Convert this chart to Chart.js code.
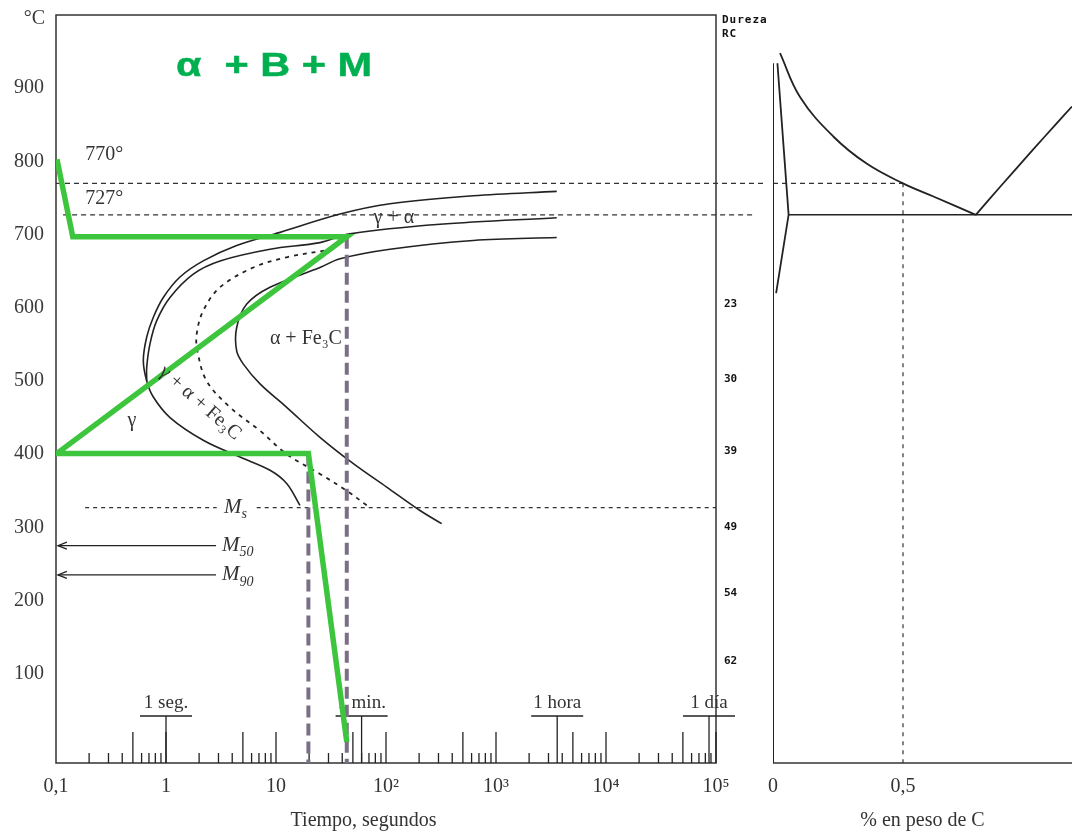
<!DOCTYPE html>
<html>
<head>
<meta charset="utf-8">
<script src="https://cdn.jsdelivr.net/npm/chart.js@4.4.1/dist/chart.umd.min.js"></script>
<style>
  body { margin: 0; background: #fff; }
  #feC { position: absolute; left: 760px; top: 0; }
  #ttt { position: absolute; left: 0; top: 0; }
</style>
</head>
<body>
<canvas id="feC" width="312" height="833"></canvas>
<canvas id="ttt" width="790" height="833"></canvas>
<script>
const SERIF = "'Liberation Serif', 'Times New Roman', serif";
const INK = "#222";

// temperature range shared by both panels (°C)
const tMin = -22;
const tMax = 1000;
const tempTicks = [100, 200, 300, 400, 500, 600, 700, 800, 900];

// time axis (s, log)
const timeTicks = [0.1, 1, 10, 100, 1000, 10000, 100000];
const timeLabels = ["0,1", "1", "10", "10²", "10³", "10⁴", "10⁵"];

// Rockwell C hardness read against temperature
const rcTemps = [605, 502, 404, 300, 210, 117];
const rcValues = ["23", "30", "39", "49", "54", "62"];

const a1Temp = 770;
const eutectoidTemp = 727;
const msTemp = 327;
const m50Temp = 275;
const m90Temp = 235;

// proeutectoid ferrite start, continuing down to Ms
const ferriteTimes = [3565, 622, 108.7, 38.2, 10.9, 4.39, 2.18, 1.34, 0.945, 0.767, 0.668, 0.622, 0.668, 0.767, 1.087, 2.18, 4.71, 8.82, 12.5, 16.5];
const ferriteTemps = [759, 753, 742, 728, 703, 685, 664, 642, 614, 587, 560, 528, 500, 478, 450, 419, 396, 378, 360, 330];

// pearlite start
const pearliteTimes = [3565, 309.7, 47.1, 25.1, 8.82, 3.1, 1.77, 1.087, 0.822, 0.716, 0.668, 0.668];
const pearliteTemps = [723, 714, 701, 689, 680, 664, 646, 614, 582, 551, 519, 500];

// 50 % transformed
const halfTimes = [33.2, 12.5, 6.22, 3.1, 2.18, 1.9, 1.93, 2.34, 3.82, 7.16, 12.5, 25.1, 44, 66.8];
const halfTemps = [680, 669, 655, 628, 596, 564, 541, 500, 464, 432, 400, 373, 350, 330];

// transformation finish
const finishTimes = [3565, 622, 108.7, 38.2, 25.1, 8.82, 5.42, 4.39, 4.39, 5.05, 7.16, 12.5, 25.1, 50.5, 101.4, 203.7, 320.6];
const finishTemps = [696, 692, 680, 667, 655, 628, 605, 573, 541, 523, 496, 464, 423, 387, 355, 323, 305];

// cooling path drawn over the diagram
const pathTimes = [0.102, 0.142, 44, 0.102, 19.7, 44];
const pathTemps = [803, 697, 697, 401, 401, 7];
const holdTimes = [19.7, 44];
const holdTemps = [401, 697];

// ruler along the time axis
const rulerMinor = [2, 3, 4, 6, 7, 8, 9];
const rulerMajor = [5, 10];
const unitTimes = [1, 60, 3600, 86400];
const unitNames = ["1 seg.", "1 min.", "1 hora", "1 día"];

// Fe–C side (wt % C, °C)
const ironC = [0, 0];
const ironT = [tMin, 934];
const ferriteFieldC = [0.017, 0.06, 0.012];
const ferriteFieldT = [934, eutectoidTemp, 620];
const a3C = [0.027, 0.104, 0.232, 0.36, 0.5, 0.617, 0.78];
const a3T = [948, 888, 834, 797, 770, 752, eutectoidTemp];
const acmC = [0.78, 0.873, 1.0, 1.091, 1.15];
const acmT = [eutectoidTemp, 765, 816, 852, 875];
const eutectoidC = [0.06, 1.15];
const steelCarbon = 0.5;
const carbonTicks = [0, 0.5];
const carbonLabels = ["0", "0,5"];

const pts = (xs, ys) => xs.map((x, i) => ({ x, y: ys[i] }));
const line = (data, extra) => Object.assign({
  data, borderColor: INK, borderWidth: 1.6, pointRadius: 0, tension: 0.35, fill: false
}, extra);
// keep the plot box where the axes are sized, no room for overhanging labels
const noOverhang = s => { s.paddingTop = 0; s.paddingBottom = 0; s.paddingLeft = 0; s.paddingRight = 0; };

function dashed(ctx, x0, y, x1, dash) {
  ctx.save();
  ctx.strokeStyle = "#333";
  ctx.lineWidth = 1.2;
  ctx.setLineDash(dash);
  ctx.beginPath();
  ctx.moveTo(x0, y);
  ctx.lineTo(x1, y);
  ctx.stroke();
  ctx.restore();
}

function subLabel(ctx, x, y, main, sub) {
  ctx.font = "italic 21px " + SERIF;
  ctx.textAlign = "left";
  ctx.textBaseline = "middle";
  ctx.fillText(main, x, y);
  const w = ctx.measureText(main).width;
  ctx.font = "italic 14px " + SERIF;
  ctx.fillText(sub, x + w, y + 7);
}

const tttDecor = {
  id: "tttDecor",
  beforeDatasetsDraw(chart) {
    const { ctx, chartArea: a, scales: { x, y } } = chart;
    ctx.save();
    // frame
    ctx.strokeStyle = "#333";
    ctx.lineWidth = 1.5;
    ctx.strokeRect(a.left, a.top, a.right - a.left, a.bottom - a.top);
    // critical temperatures, carried across to the Fe–C panel
    dashed(ctx, x.getPixelForValue(0.1), y.getPixelForValue(a1Temp), a.right + 50, [5, 4]);
    dashed(ctx, x.getPixelForValue(0.116), y.getPixelForValue(eutectoidTemp), a.right + 39, [5, 4]);
    // time ruler
    ctx.strokeStyle = INK;
    ctx.lineWidth = 1.3;
    const tick = (t, len) => {
      const px = x.getPixelForValue(t);
      ctx.beginPath();
      ctx.moveTo(px, a.bottom);
      ctx.lineTo(px, a.bottom - len);
      ctx.stroke();
    };
    for (let k = -1; k <= 4; k++) {
      const base = Math.pow(10, k);
      rulerMinor.forEach(m => tick(m * base, 10));
      rulerMajor.forEach(m => tick(m * base, 31));
    }
    ctx.fillStyle = "#333";
    ctx.font = "19px " + SERIF;
    ctx.textAlign = "center";
    ctx.textBaseline = "alphabetic";
    unitTimes.forEach((t, i) => {
      const px = x.getPixelForValue(t);
      const top = a.bottom - 47;
      tick(t, 47);
      ctx.beginPath();
      ctx.moveTo(px - 26, top);
      ctx.lineTo(px + 26, top);
      ctx.stroke();
      ctx.fillText(unitNames[i], px, top - 8);
    });
    ctx.restore();
  },
  afterDatasetsDraw(chart) {
    const { ctx, chartArea: a, scales: { x, y } } = chart;
    const at = (t, T) => [x.getPixelForValue(t), y.getPixelForValue(T)];
    ctx.save();
    // arrow heads on M50 / M90
    [m50Temp, m90Temp].forEach(T => {
      const [px, py] = at(0.104, T);
      ctx.strokeStyle = INK;
      ctx.lineWidth = 1.2;
      ctx.beginPath();
      ctx.moveTo(px + 9, py - 3.5);
      ctx.lineTo(px, py);
      ctx.lineTo(px + 9, py + 3.5);
      ctx.stroke();
    });

    // unit of the temperature axis
    ctx.fillStyle = "#3a3a3a";
    ctx.font = "20px " + SERIF;
    ctx.textAlign = "right";
    ctx.textBaseline = "middle";
    ctx.fillText("°C", a.left - 11, a.top + 4);

    ctx.fillStyle = "#333";
    ctx.textAlign = "left";
    ctx.fillText("770°", ...at(0.184, 809));
    ctx.fillText("727°", ...at(0.184, 749));
    ctx.fillText("α + Fe₃C", ...at(8.8, 558));
    ctx.textAlign = "center";
    ctx.fillText("γ + α", ...at(118, 723));
    ctx.fillText("γ", ...at(0.49, 446));
    const [rx, ry] = at(2.04, 470);
    ctx.save();
    ctx.translate(rx, ry);
    ctx.rotate(0.72);
    ctx.fillText("γ + α + Fe₃C", 0, 0);
    ctx.restore();

    subLabel(ctx, ...at(3.37, msTemp), "M", "s");
    subLabel(ctx, ...at(3.23, m50Temp), "M", "50");
    subLabel(ctx, ...at(3.23, m90Temp), "M", "90");

    // axis title
    ctx.font = "20px " + SERIF;
    ctx.textAlign = "center";
    ctx.fillText("Tiempo, segundos", a.left + 0.466 * (a.right - a.left), chart.height - 12);

    // hardness header
    ctx.fillStyle = "#111";
    ctx.font = "bold 11px 'DejaVu Sans Mono', monospace";
    ctx.letterSpacing = "1px";
    ctx.textAlign = "left";
    ctx.fillText("Dureza", a.right + 6, a.top + 5);
    ctx.fillText("RC", a.right + 6, a.top + 19);
    ctx.letterSpacing = "0px";

    // resulting microstructure
    const [gx, gy] = at(1.23, 917);
    ctx.save();
    ctx.translate(gx, gy);
    ctx.scale(1.22, 1);
    ctx.fillStyle = "#00b050";
    ctx.strokeStyle = "#00b050";
    ctx.lineWidth = 0.5;
    ctx.lineJoin = "round";
    ctx.font = "bold 34px 'Liberation Sans', Arial, sans-serif";
    ctx.textBaseline = "alphabetic";
    ctx.fillText("α  + B + M", 0, 0);
    ctx.strokeText("α  + B + M", 0, 0);
    ctx.restore();
    ctx.restore();
  }
};

new Chart(document.getElementById("ttt"), {
  type: "line",
  data: {
    datasets: [
      line(pts(pathTimes, pathTemps), { borderColor: "#3dc53d", borderWidth: 5.5, tension: 0, borderJoinStyle: "miter" }),
      line([{ x: holdTimes[0], y: holdTemps[0] }, { x: holdTimes[0], y: tMin }], { borderColor: "#7b6f85", borderWidth: 4, borderDash: [12, 6], tension: 0 }),
      line([{ x: holdTimes[1], y: holdTemps[1] }, { x: holdTimes[1], y: tMin }], { borderColor: "#7b6f85", borderWidth: 4, borderDash: [12, 6], tension: 0 }),
      line(pts(ferriteTimes, ferriteTemps)),
      line(pts(pearliteTimes, pearliteTemps)),
      line(pts(halfTimes, halfTemps), { borderDash: [4, 5], borderWidth: 1.8 }),
      line(pts(finishTimes, finishTemps)),
      line([{ x: 0.184, y: msTemp }, { x: 2.89, y: msTemp }, { x: 4.4, y: null }, { x: 6.68, y: msTemp }, { x: 100000, y: msTemp }],
        { borderWidth: 1.2, borderDash: [4, 4], tension: 0, borderColor: "#333" }),
      line([{ x: 2.85, y: m50Temp }, { x: 0.104, y: m50Temp }], { borderWidth: 1.2, tension: 0 }),
      line([{ x: 2.85, y: m90Temp }, { x: 0.104, y: m90Temp }], { borderWidth: 1.2, tension: 0 })
    ]
  },
  options: {
    responsive: false,
    animation: false,
    events: [],
    layout: { padding: { top: 15, left: 0, right: 0, bottom: 0 } },
    plugins: { legend: { display: false }, tooltip: { enabled: false } },
    scales: {
      x: {
        type: "logarithmic", min: 0.1, max: 100000,
        afterBuildTicks: s => { s.ticks = timeTicks.map(v => ({ value: v })); },
        afterFit: s => { s.height = 70; noOverhang(s); },
        grid: { display: false, drawTicks: false },
        border: { display: false },
        ticks: {
          autoSkip: false, maxRotation: 0, padding: 12, color: "#333",
          font: { family: SERIF, size: 20 },
          callback: (v, i) => timeLabels[i]
        }
      },
      y: {
        min: tMin, max: tMax,
        afterBuildTicks: s => { s.ticks = tempTicks.map(v => ({ value: v })); },
        afterFit: s => { s.width = 56; noOverhang(s); },
        grid: { display: false, drawTicks: false },
        border: { display: false },
        ticks: {
          autoSkip: false, padding: 12, color: "#3a3a3a",
          font: { family: SERIF, size: 20 },
          callback: v => String(v)
        }
      },
      rc: {
        position: "right", min: tMin, max: tMax,
        afterBuildTicks: s => { s.ticks = rcTemps.map(v => ({ value: v })); },
        afterFit: s => { s.width = 74; noOverhang(s); },
        grid: { display: false, drawTicks: false },
        border: { display: false },
        ticks: {
          autoSkip: false, padding: 8, color: "#111",
          font: { family: "'DejaVu Sans Mono', monospace", size: 11, weight: "bold" },
          callback: (v, i) => rcValues[i]
        }
      }
    }
  },
  plugins: [tttDecor]
});

const feCDecor = {
  id: "feCDecor",
  beforeDatasetsDraw(chart) {
    const { ctx, chartArea: a, scales: { x, y } } = chart;
    ctx.save();
    ctx.strokeStyle = "#333";
    ctx.lineWidth = 1.5;
    ctx.beginPath();
    ctx.moveTo(a.left, a.bottom);
    ctx.lineTo(a.right, a.bottom);
    ctx.stroke();
    dashed(ctx, a.left, y.getPixelForValue(a1Temp), x.getPixelForValue(steelCarbon), [5, 4]);
    ctx.restore();
  }
};

new Chart(document.getElementById("feC"), {
  type: "line",
  data: {
    datasets: [
      line(pts(ironC, ironT), { borderWidth: 2, tension: 0 }),
      line(pts(ferriteFieldC, ferriteFieldT), { borderWidth: 1.8, tension: 0 }),
      line(pts(a3C, a3T), { borderWidth: 1.8, tension: 0.4 }),
      line(pts(acmC, acmT), { borderWidth: 1.8, tension: 0.3 }),
      line(pts(eutectoidC, [eutectoidTemp, eutectoidTemp]), { borderWidth: 1.6, tension: 0 }),
      line([{ x: steelCarbon, y: a1Temp }, { x: steelCarbon, y: tMin }], { borderWidth: 1.2, borderDash: [4, 5], tension: 0, borderColor: "#333" })
    ]
  },
  options: {
    responsive: false,
    animation: false,
    events: [],
    layout: { padding: { top: 15, left: 13, right: 0, bottom: 0 } },
    plugins: { legend: { display: false }, tooltip: { enabled: false } },
    scales: {
      x: {
        type: "linear", min: 0, max: 1.15,
        afterBuildTicks: s => { s.ticks = carbonTicks.map(v => ({ value: v })); },
        afterFit: s => { s.height = 70; noOverhang(s); },
        grid: { display: false, drawTicks: false },
        border: { display: false },
        ticks: {
          autoSkip: false, maxRotation: 0, padding: 12, color: "#333",
          font: { family: SERIF, size: 20 },
          callback: (v, i) => carbonLabels[i]
        },
        title: {
          display: true, text: "% en peso de C", color: "#333",
          font: { family: SERIF, size: 20 }, padding: { top: 0, bottom: 0 }
        }
      },
      y: { display: false, min: tMin, max: tMax }
    }
  },
  plugins: [feCDecor]
});
</script>
</body>
</html>
